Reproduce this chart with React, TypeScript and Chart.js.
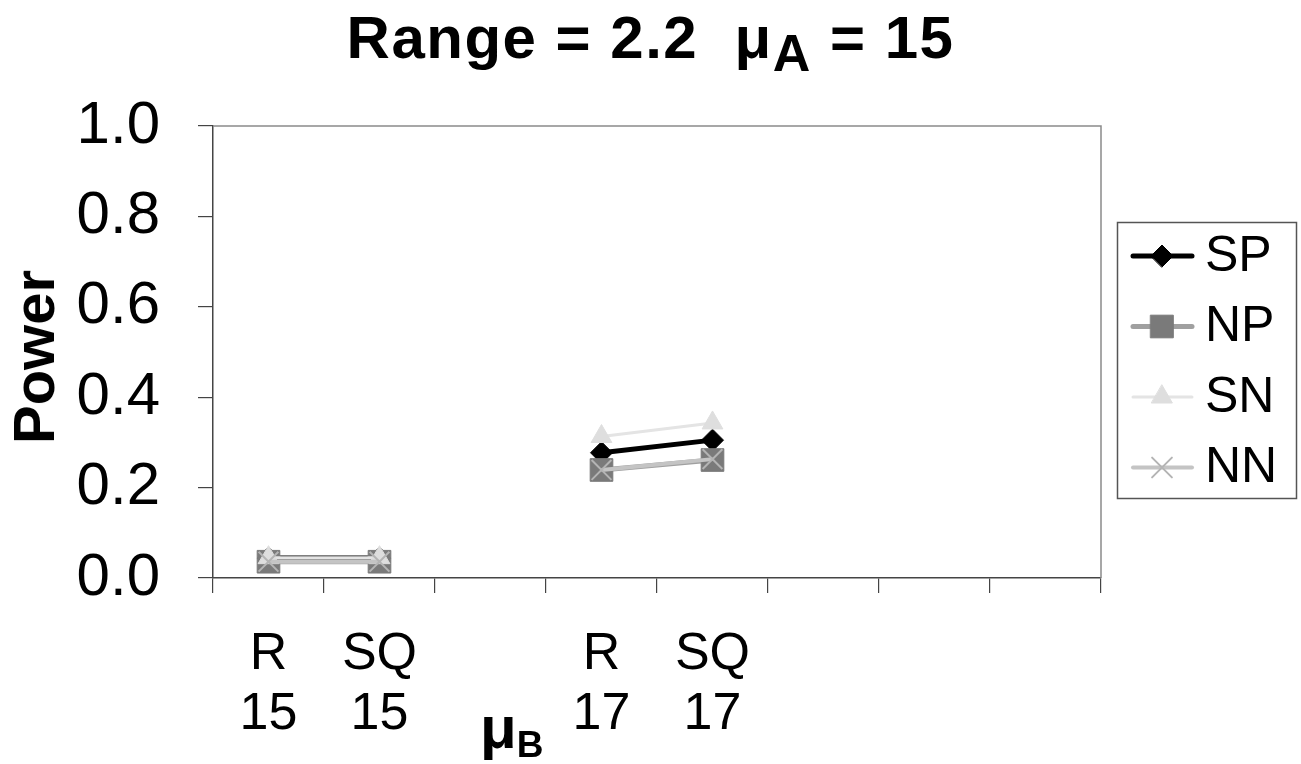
import React, { useEffect, useRef } from "react";
import { Chart, registerables } from "chart.js";
import { drawPoint } from "chart.js/helpers";

Chart.register(...registerables);

const categories: (string | string[])[] = [["R", "15"], ["SQ", "15"], "", ["R", "17"], ["SQ", "17"], "", "", ""];
const seriesNames = ["SP", "NP", "SN", "NN"];
const spValues = [0.044, 0.044, null, 0.277, 0.305, null, null, null];
const npValues = [0.036, 0.036, null, 0.239, 0.261, null, null, null];
const snValues = [0.045, 0.045, null, 0.313, 0.343, null, null, null];
const nnValues = [0.036, 0.036, null, 0.239, 0.263, null, null, null];
const yTickValues = [0, 0.2, 0.4, 0.6, 0.8, 1.0];

const FONT = "Arial, 'Liberation Sans', sans-serif";

const styles = [
  { color: "#000000", pointColor: "#000000", pointStyle: "rectRot", radius: 11, lineWidth: 5, order: 3 },
  { color: "#a0a0a0", pointColor: "#7a7a7a", pointStyle: "rect", radius: 16, lineWidth: 5, order: 2 },
  { color: "#e4e4e4", pointColor: "#dedede", pointStyle: "triangle", radius: 12, lineWidth: 3, order: 1 },
  { color: "#c4c4c4", pointColor: "#b4b4b4", pointStyle: "crossRot", radius: 14, lineWidth: 4, order: 0 },
];
const seriesValues = [spValues, npValues, snValues, nnValues];

const frameAndLegend = {
  id: "frameAndLegend",
  beforeDatasetsDraw(chart: any) {
    const { ctx, chartArea } = chart;
    ctx.save();
    ctx.strokeStyle = "#8a8a8a";
    ctx.lineWidth = 1.5;
    ctx.beginPath();
    ctx.moveTo(chartArea.left, chartArea.top);
    ctx.lineTo(chartArea.right, chartArea.top);
    ctx.lineTo(chartArea.right, chartArea.bottom);
    ctx.stroke();
    ctx.restore();
  },
  afterDraw(chart: any) {
    const ctx = chart.ctx;
    ctx.save();
    ctx.strokeStyle = "#555555";
    ctx.lineWidth = 1.5;
    ctx.strokeRect(1117.5, 222.5, 179, 276);
    seriesNames.forEach((name, i) => {
      const st = styles[i];
      const y = 256 + i * 70.5;
      ctx.strokeStyle = st.color;
      ctx.lineWidth = st.lineWidth;
      ctx.lineCap = "round";
      ctx.beginPath();
      ctx.moveTo(1133, y);
      ctx.lineTo(1192, y);
      ctx.stroke();
      ctx.fillStyle = st.pointColor;
      ctx.strokeStyle = st.pointColor;
      ctx.lineWidth = st.pointStyle === "crossRot" ? 2 : 1;
      drawPoint(ctx, { pointStyle: st.pointStyle, radius: st.radius, rotation: 0, borderWidth: 1 } as any, 1162, y);
      ctx.fillStyle = "#000000";
      ctx.font = `50px ${FONT}`;
      ctx.textBaseline = "middle";
      ctx.textAlign = "left";
      ctx.fillText(name, 1205, y + 1);
    });
    ctx.restore();
  },
};

export default function App() {
  const canvasRef = useRef<HTMLCanvasElement | null>(null);

  useEffect(() => {
    if (!canvasRef.current) return;
    const chart = new Chart(canvasRef.current, {
      type: "line",
      data: {
        labels: categories,
        datasets: seriesNames.map((name, i) => ({
          label: name,
          data: seriesValues[i],
          borderColor: styles[i].color,
          backgroundColor: styles[i].pointColor,
          pointBackgroundColor: styles[i].pointColor,
          pointBorderColor: styles[i].pointColor,
          pointStyle: styles[i].pointStyle as any,
          pointRadius: styles[i].radius,
          pointBorderWidth: styles[i].pointStyle === "crossRot" ? 2 : 1,
          borderWidth: styles[i].lineWidth,
          spanGaps: false,
          order: styles[i].order,
          tension: 0,
        })),
      },
      options: {
        animation: false,
        responsive: false,
        events: [],
        layout: { padding: { top: 126, right: 200, left: 0, bottom: 0 } },
        plugins: { legend: { display: false }, title: { display: false }, tooltip: { enabled: false } },
        scales: {
          x: {
            offset: true,
            afterFit(scale: any) {
              scale.height = 186;
            },
            grid: { display: true, offset: true, drawOnChartArea: false, tickLength: 15, color: "#444444", lineWidth: 1.2 },
            border: { display: true, color: "#444444", width: 1.5 },
            ticks: {
              color: "#000000",
              font: { family: FONT, size: 52, lineHeight: 1.16 },
              padding: 31,
              maxRotation: 0,
              autoSkip: false,
            },
          },
          y: {
            min: 0,
            max: 1,
            afterFit(scale: any) {
              scale.width = 213;
            },
            afterBuildTicks(scale: any) {
              scale.ticks = yTickValues.map((v) => ({ value: v }));
            },
            grid: { display: true, drawOnChartArea: false, tickLength: 15, color: "#444444", lineWidth: 1.2 },
            border: { display: true, color: "#444444", width: 1.5 },
            ticks: {
              color: "#000000",
              font: { family: FONT, size: 60 },
              padding: 38,
              callback: (v: any) => Number(v).toFixed(1),
            },
          },
        },
      },
      plugins: [frameAndLegend],
    });
    return () => chart.destroy();
  }, []);

  return (
    <div style={{ position: "absolute", left: 0, top: 0, width: 1301, height: 764, background: "#ffffff", overflow: "hidden" }}>
      <canvas ref={canvasRef} width={1301} height={764} style={{ position: "absolute", left: 0, top: 0 }} />
      <div
        style={{
          position: "absolute",
          left: 0,
          top: 8,
          width: 1301,
          textAlign: "center",
          fontFamily: FONT,
          fontWeight: "bold",
          fontSize: 60,
          lineHeight: "60px",
          letterSpacing: "1.5px",
          whiteSpace: "pre",
          color: "#000",
        }}
      >
        {"Range = 2.2  μ"}
        <span style={{ fontSize: 52, position: "relative", top: 13 }}>A</span>
        {" = 15"}
      </div>
      <div
        style={{
          position: "absolute",
          left: 34,
          top: 357,
          transform: "translate(-50%, -50%) rotate(-90deg)",
          fontFamily: FONT,
          fontWeight: "bold",
          fontSize: 58,
          lineHeight: "58px",
          whiteSpace: "nowrap",
          color: "#000",
        }}
      >
        Power
      </div>
      <div
        style={{
          position: "absolute",
          left: 480,
          top: 698,
          fontFamily: FONT,
          fontWeight: "bold",
          fontSize: 60,
          lineHeight: "60px",
          whiteSpace: "nowrap",
          color: "#000",
        }}
      >
        μ<span style={{ fontSize: 37, position: "relative", top: 9 }}>B</span>
      </div>
    </div>
  );
}
